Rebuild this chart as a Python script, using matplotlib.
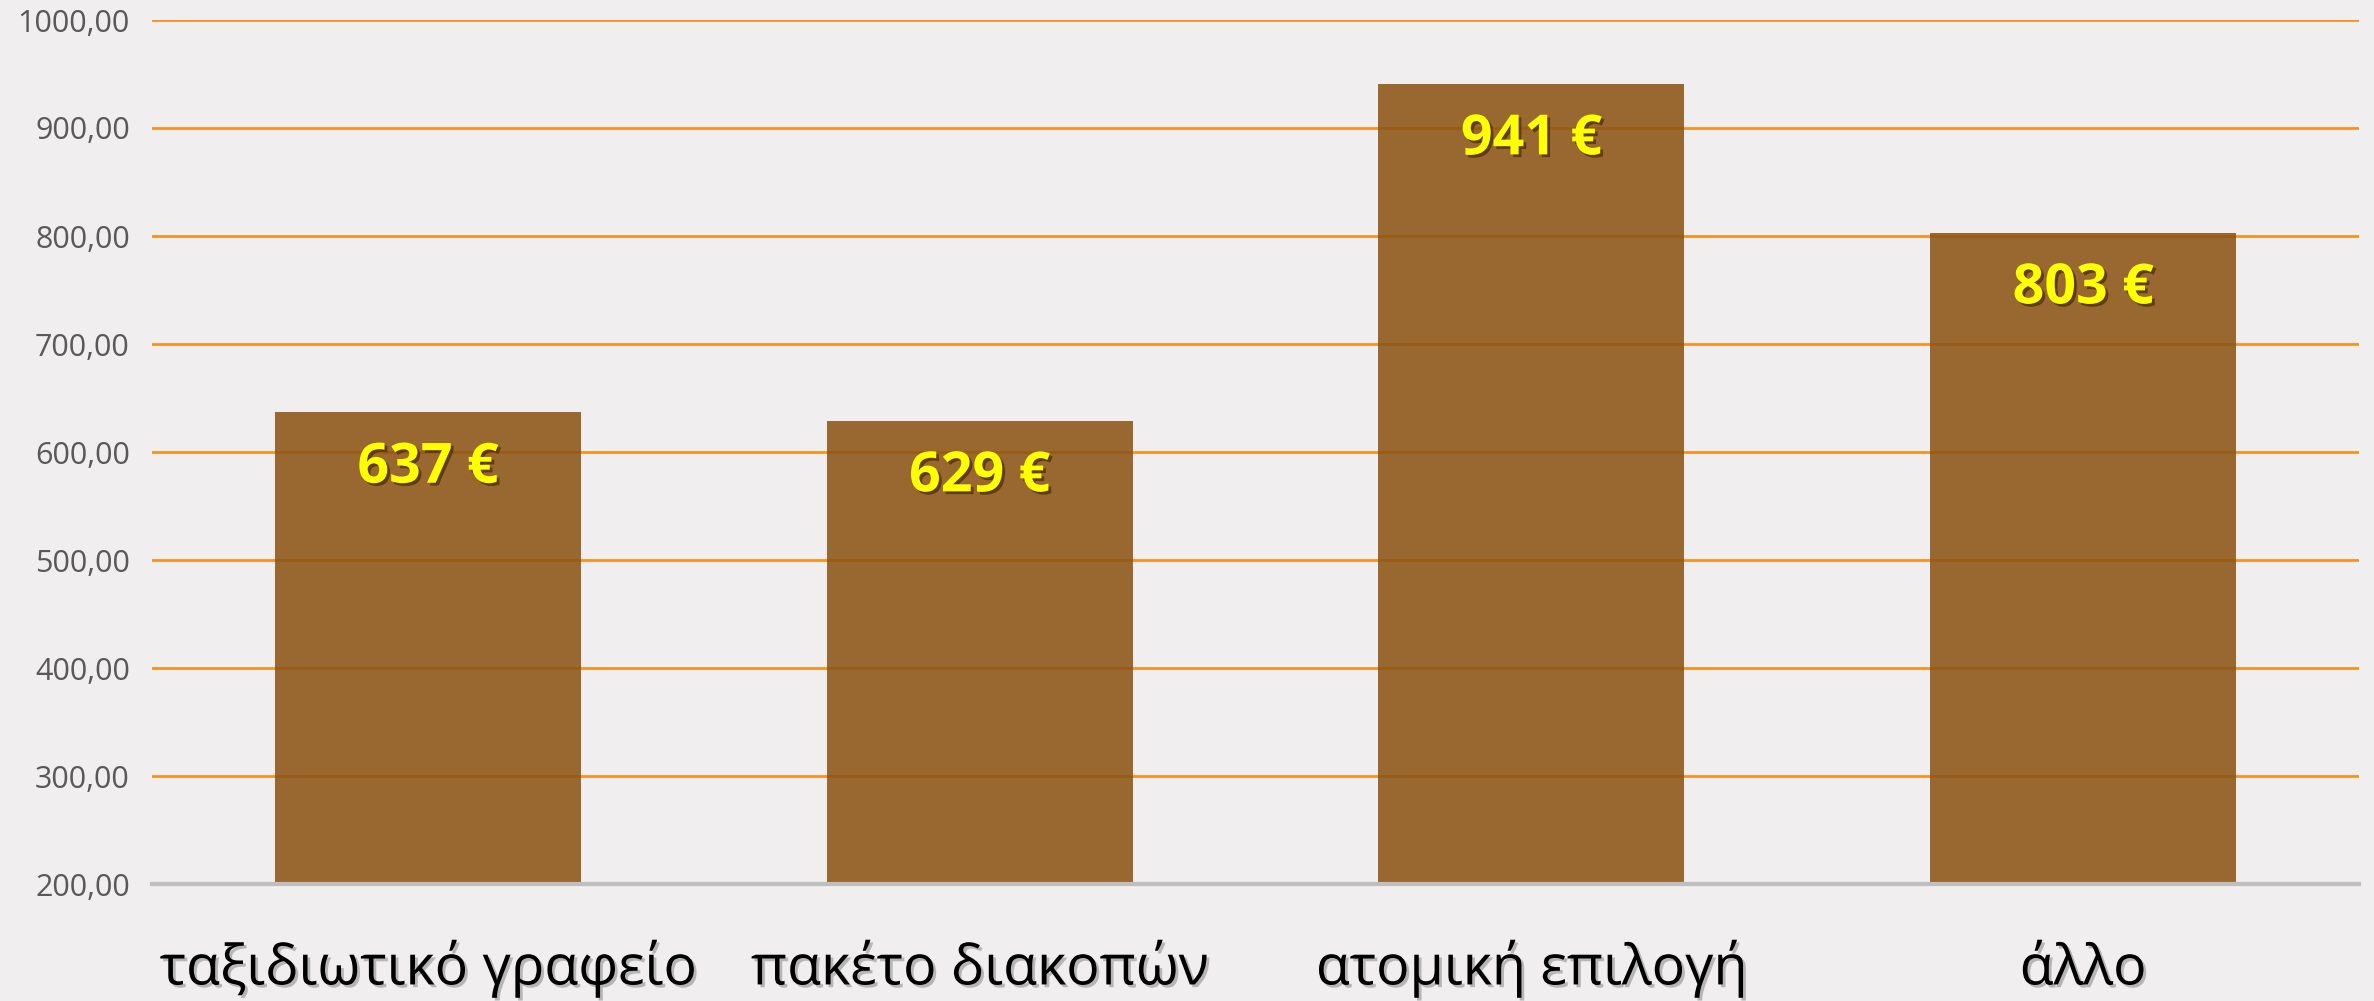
import matplotlib
matplotlib.use('Agg')
import matplotlib.pyplot as plt
import matplotlib.patheffects as pe
import numpy as np

categories = ['ταξιδιωτικό γραφείο', 'πακέτο διακοπών', 'ατομική επιλογή', 'άλλο']
values = [637, 629, 941, 803]
labels = ['637 €', '629 €', '941 €', '803 €']
yticks = [200, 300, 400, 500, 600, 700, 800, 900, 1000]

plt.rcParams['font.family'] = ['Open Sans', 'DejaVu Sans']

bg = '#f0eeef'
fig = plt.figure(figsize=(23.74, 10.01), dpi=100, facecolor=bg)
ax = fig.add_axes([152 / 2374, 1 - 884 / 1001, (2359 - 152) / 2374, (884 - 20) / 1001])
ax.set_facecolor(bg)

x = np.arange(len(categories))
ax.set_xlim(-0.5, len(categories) - 0.5)
ax.set_ylim(200, 1000)
ax.set_yticks(yticks)
ax.set_yticklabels(['%d,00' % t for t in yticks], color='#595959', fontsize=22)
ax.tick_params(axis='y', length=0, pad=16)
ax.tick_params(axis='x', length=0)
ax.set_xticks([])

for t in yticks[1:]:
    ax.axhline(t, color='#f7931e', lw=2, zorder=1)
for s in ['top', 'right', 'left']:
    ax.spines[s].set_visible(False)
ax.spines['bottom'].set_color('#bfbfbf')
ax.spines['bottom'].set_linewidth(3)
ax.spines['bottom'].set_zorder(4)

ax.bar(x, np.array(values) - 200, bottom=200, width=0.555, color='#8c5515', alpha=0.88, zorder=2)

shadow = [pe.withSimplePatchShadow(offset=(2, -2), shadow_rgbFace='#3a2000', alpha=0.6)]
for i, v in enumerate(values):
    ax.text(x[i], v - 52, labels[i], ha='center', va='center', color='#ffff00',
            fontsize=40, fontweight='bold', zorder=5, path_effects=shadow)

xshadow = [pe.withSimplePatchShadow(offset=(2, -2), shadow_rgbFace='#808080', alpha=0.5)]
for i, c in enumerate(categories):
    ax.text(x[i], 107, c, ha='center', va='baseline', color='black', fontsize=40,
            zorder=5, path_effects=xshadow, clip_on=False)

fig.savefig('out.png', dpi=100, facecolor=bg)
